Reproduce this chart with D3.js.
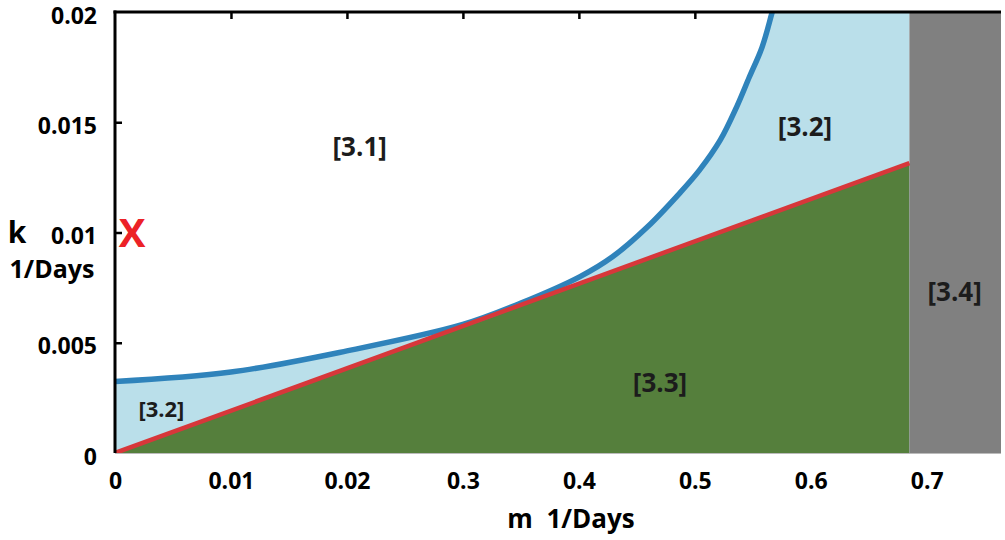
<!DOCTYPE html>
<html lang="en">
<head>
  <meta charset="utf-8">
  <title>k vs m regions</title>
  <style>
    html,body { margin:0; padding:0; background:#fff; }
    svg { display:block; }
    text { font-family:"Open Sans", "DejaVu Sans", sans-serif; font-weight:700; fill:#000; }
  </style>
  <script src="https://d3js.org/d3.v7.min.js"></script>
</head>
<body>
<svg width="1005" height="540"></svg>
<script>
// values (m in 1/Days, k in 1/Days)
const xTickValues = [0, 0.1, 0.2, 0.3, 0.4, 0.5, 0.6, 0.7];
const xTickLabels = ["0", "0.01", "0.02", "0.3", "0.4", "0.5", "0.6", "0.7"];
const yTickValues = [0, 0.005, 0.01, 0.015, 0.02];
const yTickLabels = ["0", "0.005", "0.01", "0.015", "0.02"];

// blue boundary curve
const blueM = [0, 0.1, 0.2, 0.3, 0.35, 0.401, 0.429, 0.459, 0.487, 0.504, 0.522, 0.536, 0.547, 0.558, 0.566, 0.574];
const blueK = [0.00324, 0.00367, 0.00463, 0.00583, 0.0068, 0.0080, 0.0089, 0.01025, 0.01179, 0.01283, 0.0142, 0.01569, 0.01705, 0.01841, 0.01986, 0.0215];

// red straight boundary
const redM = [0, 0.685];
const redK = [0, 0.01315];

const mMax = 0.764;     // right edge of the plot
const mCut = 0.685;     // start of the grey region
const kMax = 0.02;

const regionLabels = [
  {text:"[3.1]", m:0.211, k:0.0139, size:26},
  {text:"[3.2]", m:0.595, k:0.0148, size:26},
  {text:"[3.2]", m:0.040, k:0.0020, size:22},
  {text:"[3.3]", m:0.470, k:0.0032, size:26},
  {text:"[3.4]", m:0.724, k:0.0073, size:26}
];

const svg = d3.select("svg");
const x = d3.scaleLinear().domain([0, mMax]).range([115, 1001]);
const y = d3.scaleLinear().domain([0, kMax]).range([453, 12]);

const blue = blueM.map((m, i) => [m, blueK[i]]);
const red = redM.map((m, i) => [m, redK[i]]);
const smooth = d3.curveCatmullRom.alpha(0.5);

svg.append("clipPath").attr("id", "plot")
  .append("rect")
  .attr("x", x(0)).attr("y", y(kMax))
  .attr("width", x(mMax) - x(0)).attr("height", y(0) - y(kMax));

const g = svg.append("g").attr("clip-path", "url(#plot)");

// light blue background of the region left of the cut
g.append("rect")
  .attr("x", x(0)).attr("y", y(kMax))
  .attr("width", x(mCut) - x(0)).attr("height", y(0) - y(kMax))
  .attr("fill", "#badfea");

// white area above the blue curve
g.append("path")
  .datum(blue)
  .attr("fill", "#fff")
  .attr("d", d3.area()
    .curve(smooth)
    .x(d => x(d[0]))
    .y0(y(kMax) - 5)
    .y1(d => y(d[1])));

// green area under the red line
g.append("path")
  .datum(red)
  .attr("fill", "#557f3c")
  .attr("d", d3.area()
    .x(d => x(d[0]))
    .y0(y(0))
    .y1(d => y(d[1])));

// grey region
g.append("rect")
  .attr("x", x(mCut)).attr("y", y(kMax))
  .attr("width", x(mMax) - x(mCut)).attr("height", y(0) - y(kMax))
  .attr("fill", "#808080");

g.append("path")
  .datum(blue)
  .attr("fill", "none")
  .attr("stroke", "#2f83bb")
  .attr("stroke-width", 5.5)
  .attr("d", d3.line().curve(smooth).x(d => x(d[0])).y(d => y(d[1])));

g.append("path")
  .datum(red)
  .attr("fill", "none")
  .attr("stroke", "#d7373a")
  .attr("stroke-width", 4.5)
  .attr("d", d3.line().x(d => x(d[0])).y(d => y(d[1])));

// faint bottom edge
svg.append("line")
  .attr("x1", x(0)).attr("x2", x(mMax))
  .attr("y1", y(0) + 0.5).attr("y2", y(0) + 0.5)
  .attr("stroke", "#bbb").attr("stroke-width", 1);

// left axis
const yAxis = d3.axisLeft(y)
  .tickValues(yTickValues)
  .tickFormat((d, i) => yTickLabels[i])
  .tickSize(-7)
  .tickPadding(18);
const ya = svg.append("g").attr("transform", `translate(${x(0)},0)`).call(yAxis);
ya.select(".domain").remove();
ya.selectAll(".tick line").attr("stroke", "#000").attr("stroke-width", 2.5)
  .filter(d => d === 0 || d === kMax).remove();
ya.selectAll(".tick text").attr("font-size", 23).attr("font-family", null)
  .attr("dy", "0.48em");
svg.append("line")
  .attr("x1", x(0)).attr("x2", x(0))
  .attr("y1", y(kMax) - 1.5).attr("y2", y(0))
  .attr("stroke", "#000").attr("stroke-width", 3);

// top border with ticks
const topAxis = d3.axisTop(x)
  .tickValues(xTickValues.slice(1, 6))
  .tickSize(-7)
  .tickFormat("");
const ta = svg.append("g").attr("transform", `translate(0,${y(kMax)})`).call(topAxis);
ta.select(".domain").remove();
ta.selectAll(".tick line").attr("stroke", "#000").attr("stroke-width", 2.5);
svg.append("line")
  .attr("x1", x(0) - 1.5).attr("x2", x(mMax))
  .attr("y1", y(kMax)).attr("y2", y(kMax))
  .attr("stroke", "#000").attr("stroke-width", 3);

// bottom tick labels
const xAxis = d3.axisBottom(x)
  .tickValues(xTickValues)
  .tickFormat((d, i) => xTickLabels[i])
  .tickSize(0)
  .tickPadding(20);
const xa = svg.append("g").attr("transform", `translate(0,${y(0)})`).call(xAxis);
xa.select(".domain").remove();
xa.selectAll(".tick text").attr("font-size", 23).attr("font-family", null);

// region labels
svg.selectAll("text.region")
  .data(regionLabels)
  .enter().append("text")
  .attr("class", "region")
  .attr("x", d => x(d.m))
  .attr("y", d => y(d.k))
  .attr("dy", "0.35em")
  .attr("text-anchor", "middle")
  .attr("font-size", d => d.size)
  .style("fill", "#1c1c1c")
  .text(d => d.text);

// axis titles
svg.append("text").attr("x", 17).attr("y", 243).attr("text-anchor", "middle")
  .attr("font-size", 30).text("k");
svg.append("text").attr("x", 52).attr("y", 278).attr("text-anchor", "middle")
  .attr("font-size", 25).text("1/Days");
svg.append("text").attr("x", 571).attr("y", 528).attr("text-anchor", "middle")
  .attr("font-size", 26).attr("xml:space", "preserve").text("m  1/Days");

// red marker
svg.append("text").attr("x", 132).attr("y", y(0.01)).attr("dy", "0.36em")
  .attr("text-anchor", "middle").attr("font-size", 40)
  .style("fill", "#ec2227").text("X");
</script>
</body>
</html>
